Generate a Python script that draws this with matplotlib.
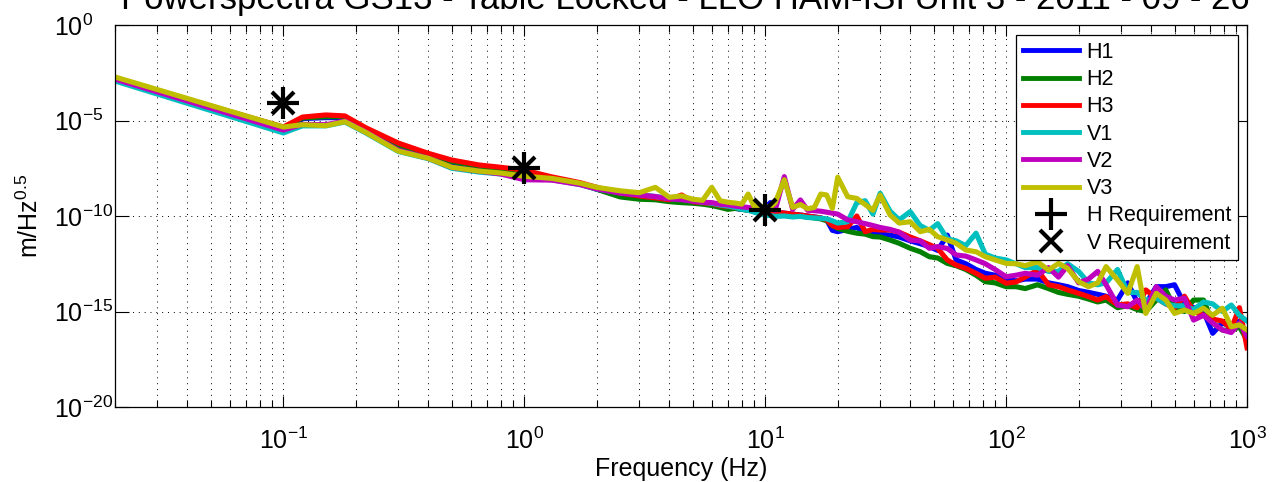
import numpy as np
import matplotlib
matplotlib.use('Agg')
import matplotlib.pyplot as plt
from matplotlib.ticker import LogLocator, FixedLocator, FixedFormatter, NullLocator
from matplotlib.lines import Line2D

plt.rcParams['font.family'] = ['Liberation Sans', 'DejaVu Sans']
plt.rcParams['mathtext.fontset'] = 'custom'
plt.rcParams['mathtext.rm'] = 'Liberation Sans'
plt.rcParams['mathtext.it'] = 'Liberation Sans:italic'
plt.rcParams['mathtext.default'] = 'regular'

# frequency grid (Hz)
freq = [0.02, 0.1, 0.12, 0.15, 0.18, 0.22, 0.3, 0.4, 0.5, 0.65,
        0.8, 1.0, 1.3, 1.7, 2.0, 2.5, 3.0, 3.5, 4.0, 4.5,
        5.0, 5.5, 6.0, 6.5, 7.0, 7.5, 8.0, 8.5, 9.0, 10.0,
        10.5, 11, 12, 13, 14, 15, 16, 17, 18, 19,
        20, 22, 24, 26, 28, 30, 33, 36, 40, 44,
        48, 52, 57, 62, 68, 75, 82, 90, 100, 110,
        120, 135, 150, 165, 180, 200, 220, 240, 260, 290,
        320, 350, 380, 420, 460, 500, 550, 600, 660, 720,
        790, 860, 930, 1000]

# log10 of the amplitude spectra (m/Hz^0.5)
h1 = [-2.83, -5.40, -4.90, -4.85, -4.85, -5.50, -6.40, -6.85, -7.20, -7.45,
      -7.60, -7.80, -8.05, -8.32, -8.60, -8.90, -9.05, -9.10, -9.20, -9.25,
      -9.30, -9.35, -9.40, -9.50, -9.60, -9.60, -9.65, -9.68, -9.72, -9.60,
      -9.30, -9.80, -9.85, -9.90, -9.95, -10.00, -10.05, -10.10, -10.20, -10.75,
      -10.82, -10.70, -10.60, -10.85, -10.90, -10.95, -11.00, -11.10, -11.30, -11.45,
      -11.60, -11.80, -11.00, -12.30, -12.50, -12.80, -13.00, -13.10, -13.30, -13.40,
      -13.30, -13.30, -13.50, -13.60, -13.70, -13.90, -14.00, -14.10, -14.20, -14.40,
      -13.50, -14.50, -14.60, -13.70, -13.70, -13.60, -14.60, -14.80, -15.00, -16.14,
      -15.60, -15.80, -15.50, -16.20]
h2 = [-2.82, -5.36, -4.87, -4.80, -4.80, -5.42, -6.33, -6.80, -7.15, -7.40,
      -7.55, -7.77, -8.00, -8.30, -8.60, -9.00, -9.12, -9.15, -9.25, -9.30,
      -9.33, -9.38, -9.45, -9.55, -9.65, -9.60, -9.65, -9.70, -9.75, -9.75,
      -9.80, -9.85, -9.90, -9.95, -10.00, -10.05, -10.10, -10.15, -10.25, -10.50,
      -10.65, -10.80, -10.90, -10.95, -11.08, -11.10, -11.26, -11.43, -11.69, -11.87,
      -12.13, -12.20, -12.48, -12.60, -12.80, -13.10, -13.44, -13.50, -13.70, -13.70,
      -13.80, -13.60, -13.80, -14.00, -14.10, -14.20, -14.35, -14.50, -14.40, -14.80,
      -14.70, -14.90, -15.00, -14.40, -13.87, -14.80, -15.00, -14.40, -14.40, -15.60,
      -15.97, -16.00, -15.80, -16.50]
h3 = [-2.80, -5.34, -4.82, -4.71, -4.76, -5.38, -6.18, -6.72, -7.07, -7.33,
      -7.45, -7.60, -7.95, -8.25, -8.50, -8.80, -8.95, -9.05, -9.15, -8.90,
      -9.25, -9.30, -9.35, -9.45, -9.50, -9.55, -9.60, -9.65, -9.70, -9.72,
      -9.75, -9.80, -9.85, -9.90, -9.95, -10.00, -10.05, -10.10, -10.20, -10.50,
      -10.60, -10.56, -10.00, -10.82, -10.70, -10.73, -10.73, -10.85, -11.10, -11.30,
      -11.50, -11.70, -12.30, -12.57, -12.74, -13.00, -13.26, -13.20, -13.52, -13.45,
      -13.20, -12.83, -13.60, -13.70, -13.87, -14.05, -14.22, -14.40, -14.22, -14.66,
      -14.60, -14.80, -13.87, -14.30, -14.60, -14.80, -14.20, -15.00, -15.20, -15.40,
      -15.50, -15.90, -14.80, -16.90]
v1 = [-2.93, -5.65, -5.28, -5.28, -5.08, -5.65, -6.62, -7.00, -7.50, -7.70,
      -7.80, -8.00, -8.10, -8.35, -8.58, -8.78, -8.88, -8.98, -9.08, -9.12,
      -9.20, -9.28, -9.33, -9.42, -9.48, -9.55, -9.65, -9.70, -9.80, -9.95,
      -9.98, -10.02, -10.00, -10.05, -10.02, -10.08, -10.10, -10.12, -10.15, -10.25,
      -10.37, -10.30, -9.30, -9.20, -9.90, -8.81, -9.75, -10.20, -9.77, -10.50,
      -10.75, -10.40, -11.20, -11.30, -11.55, -10.90, -12.00, -12.20, -12.30, -12.50,
      -12.70, -12.70, -12.90, -12.90, -12.50, -12.90, -13.50, -13.60, -13.50, -12.80,
      -14.00, -14.00, -14.40, -14.30, -14.60, -14.70, -14.70, -14.90, -14.50, -14.60,
      -15.00, -14.66, -15.20, -15.50]
v2 = [-2.83, -5.50, -5.20, -5.22, -5.03, -5.60, -6.55, -6.97, -7.45, -7.65,
      -7.80, -8.10, -8.12, -8.35, -8.58, -8.80, -8.90, -8.98, -9.10, -9.15,
      -9.22, -9.28, -9.30, -9.38, -9.42, -9.48, -9.52, -9.55, -9.60, -9.62,
      -9.60, -9.70, -7.94, -9.65, -9.16, -9.70, -9.72, -9.75, -9.80, -9.85,
      -9.90, -10.20, -10.30, -10.40, -10.50, -10.60, -10.70, -10.85, -11.26, -11.30,
      -11.69, -11.60, -11.70, -12.04, -12.10, -12.30, -12.50, -12.80, -13.18, -13.10,
      -13.00, -13.10, -12.70, -13.20, -12.60, -13.50, -13.30, -12.90, -13.60, -14.66,
      -14.75, -14.40, -14.90, -13.70, -14.20, -14.40, -14.30, -15.45, -15.20, -15.60,
      -15.97, -16.10, -15.60, -16.30]
v3 = [-2.72, -5.34, -5.22, -5.27, -5.06, -5.62, -6.60, -6.98, -7.45, -7.65,
      -7.75, -7.92, -8.03, -8.28, -8.50, -8.68, -8.78, -8.50, -9.02, -8.95,
      -9.12, -9.18, -8.50, -9.20, -9.28, -9.32, -9.38, -8.85, -9.50, -9.50,
      -9.55, -9.30, -8.10, -9.55, -9.40, -9.62, -9.55, -8.85, -8.90, -9.60,
      -7.97, -8.99, -9.08, -9.40, -9.70, -8.90, -9.95, -10.37, -10.30, -10.82,
      -10.70, -11.08, -11.26, -11.43, -11.78, -11.87, -12.13, -12.30, -12.48, -12.50,
      -12.60, -12.40, -12.83, -12.48, -12.74, -13.44, -13.70, -13.50, -12.65, -13.35,
      -14.05, -12.65, -15.10, -14.05, -14.40, -15.10, -14.92, -15.10, -14.83, -15.20,
      -14.83, -15.80, -15.70, -15.97]

series_names = ['H1', 'H2', 'H3', 'V1', 'V2', 'V3']
series_data = [h1, h2, h3, v1, v2, v3]
series_colors = ['#0000ff', '#008000', '#ff0000', '#00bfbf', '#bf00bf', '#bfbf00']

# requirement points
req_freq = [0.1, 1.0, 10.0]
req_amp = [8e-5, 3.2e-8, 2e-10]

title_text = 'Powerspectra GS13 - Table Locked - LLO HAM-ISI Unit 3 - 2011 - 09 - 26'

fig = plt.figure(figsize=(12.76, 4.82), dpi=100)
ax = fig.add_axes([0.0901, 0.1556, 0.8872, 0.7925])

f = np.array(freq)
for name, vals, col in zip(series_names, series_data, series_colors):
    ax.plot(f, 10.0 ** np.array(vals), color=col, lw=3.7, solid_joinstyle='round', label=name)

ax.plot(req_freq, req_amp, ls='none', marker='+', ms=23, mew=3, color='black')
ax.plot(req_freq, req_amp, ls='none', marker='x', ms=16, mew=3, color='black')

ax.set_xscale('log')
ax.set_yscale('log')
ax.set_xlim(0.02, 1000)
ax.set_ylim(1e-20, 1e0)

# ticks
ax.xaxis.set_major_locator(FixedLocator([0.1, 1, 10, 100, 1000]))
ax.xaxis.set_major_formatter(FixedFormatter([r'$10^{-1}$', r'$10^{0}$', r'$10^{1}$', r'$10^{2}$', r'$10^{3}$']))
ax.xaxis.set_minor_locator(LogLocator(base=10, subs=np.arange(2, 10), numticks=30))
ax.yaxis.set_major_locator(FixedLocator([1e-20, 1e-15, 1e-10, 1e-5, 1e0]))
ax.yaxis.set_major_formatter(FixedFormatter([r'$10^{-20}$', r'$10^{-15}$', r'$10^{-10}$', r'$10^{-5}$', r'$10^{0}$']))
ax.yaxis.set_minor_locator(NullLocator())

ax.tick_params(which='both', direction='in', top=True, right=True, labelsize=18, colors='black')
ax.tick_params(axis='x', which='major', length=8, width=0.8, pad=15)
ax.tick_params(axis='x', which='minor', length=5, width=0.8)
ax.tick_params(axis='y', which='major', length=10, width=0.8, pad=44)
for lab in ax.get_yticklabels():
    lab.set_horizontalalignment('left')

ax.grid(True, which='major', axis='both', color='black', lw=0.7, linestyle=(0, (1, 5)))
ax.grid(True, which='minor', axis='x', color='black', lw=0.7, linestyle=(0, (1, 5)))
for sp in ax.spines.values():
    sp.set_linewidth(0.9)

ax.set_xlabel('Frequency (Hz)', fontsize=18, labelpad=2)
ax.set_ylabel(r'm/Hz$^{0.5}$', fontsize=18, labelpad=8)

# title sits partly above the top edge, as in the original export
fig.text(0.537, 0.981, title_text, ha='center', va='baseline', fontsize=25)

# legend
handles = [Line2D([], [], color=c, lw=3.5) for c in series_colors]
handles.append(Line2D([], [], ls='none', marker='+', ms=23, mew=3, color='black'))
handles.append(Line2D([], [], ls='none', marker='x', ms=16, mew=3, color='black'))
labels = series_names + ['H Requirement', 'V Requirement']
leg = ax.legend(handles, labels, loc='upper right', bbox_to_anchor=(0.992, 0.974),
                borderaxespad=0, fontsize=15.5, frameon=True, fancybox=False,
                handlelength=2.6, handletextpad=0.35, labelspacing=0.29,
                borderpad=0.32, framealpha=1)
leg.get_frame().set_edgecolor('black')
leg.get_frame().set_linewidth(0.9)

fig.savefig('out.png', dpi=100)
